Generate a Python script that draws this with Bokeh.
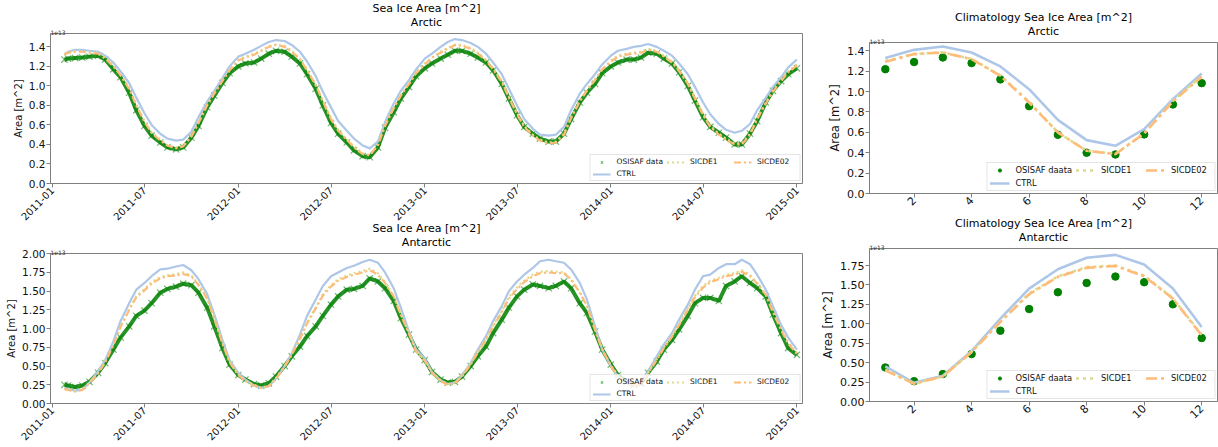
import math
from datetime import datetime
from bokeh.plotting import figure
from bokeh.layouts import row, column
from bokeh.models import (Range1d, FixedTicker, DatetimeTickFormatter, NumeralTickFormatter,
                          Legend, LegendItem, Title)
from bokeh.embed import file_html
from bokeh.resources import INLINE

FONT = "DejaVu Sans"

# ---------------- data (values in units of 1e13 m^2) ----------------
# semi-monthly sample dates: 2011-01-25, then the 1st and 15th of each month, ending 2015-01-01
dates = [datetime(2011, 1, 25)]
for yy in range(2011, 2015):
    for mm in range(1, 13):
        for dd in (1, 15):
            d = datetime(yy, mm, dd)
            if d > dates[0]:
                dates.append(d)
dates.append(datetime(2015, 1, 1))

arc_osisaf = [
    1.27, 1.28, 1.285, 1.29, 1.30, 1.31, 1.27, 1.17, 1.09, 0.93, 0.75, 0.59, 0.49, 0.42, 0.37, 0.35, 0.37, 0.47, 0.59, 0.78, 0.90, 1.03, 1.13,
    1.20, 1.23, 1.24, 1.28, 1.33, 1.36, 1.35, 1.30, 1.23, 1.12, 0.97, 0.80, 0.62, 0.51, 0.42, 0.34, 0.28, 0.27, 0.37, 0.57, 0.73, 0.87, 0.99, 1.10,
    1.18, 1.23, 1.28, 1.32, 1.36, 1.36, 1.33, 1.29, 1.24, 1.16, 1.02, 0.87, 0.70, 0.58, 0.51, 0.46, 0.43, 0.43, 0.51, 0.66, 0.83, 0.93, 1.02, 1.13,
    1.20, 1.24, 1.27, 1.27, 1.29, 1.34, 1.33, 1.28, 1.23, 1.14, 1.00, 0.85, 0.68, 0.58, 0.52, 0.47, 0.40, 0.40, 0.51, 0.64, 0.83, 0.95, 1.05, 1.12,
    1.18]
arc_ctrl = [
    1.32, 1.35, 1.37, 1.37, 1.36, 1.35, 1.31, 1.24, 1.15, 1.03, 0.88, 0.72, 0.60, 0.51, 0.46, 0.44, 0.45, 0.53, 0.68, 0.84, 0.95, 1.08, 1.20,
    1.30, 1.33, 1.37, 1.41, 1.45, 1.47, 1.46, 1.42, 1.35, 1.25, 1.10, 0.94, 0.78, 0.64, 0.54, 0.46, 0.39, 0.36, 0.43, 0.63, 0.82, 0.95, 1.06, 1.17,
    1.28, 1.33, 1.40, 1.45, 1.48, 1.47, 1.44, 1.40, 1.33, 1.24, 1.12, 0.97, 0.80, 0.66, 0.56, 0.50, 0.49, 0.50, 0.58, 0.75, 0.92, 1.02, 1.12, 1.22,
    1.31, 1.36, 1.38, 1.40, 1.41, 1.43, 1.40, 1.36, 1.31, 1.23, 1.12, 0.99, 0.83, 0.71, 0.61, 0.55, 0.52, 0.54, 0.61, 0.75, 0.88, 0.99, 1.09, 1.19,
    1.27]
arc_sicde1 = [
    1.33, 1.34, 1.36, 1.35, 1.35, 1.33, 1.29, 1.21, 1.11, 0.98, 0.81, 0.64, 0.52, 0.45, 0.39, 0.37, 0.38, 0.49, 0.62, 0.81, 0.92, 1.06, 1.16,
    1.27, 1.30, 1.33, 1.36, 1.41, 1.42, 1.41, 1.36, 1.28, 1.17, 1.01, 0.85, 0.67, 0.55, 0.45, 0.38, 0.31, 0.29, 0.40, 0.60, 0.78, 0.91, 1.02, 1.14,
    1.23, 1.29, 1.35, 1.39, 1.42, 1.42, 1.39, 1.34, 1.27, 1.18, 1.05, 0.89, 0.72, 0.59, 0.50, 0.45, 0.42, 0.43, 0.51, 0.68, 0.85, 0.96, 1.07, 1.17,
    1.26, 1.31, 1.33, 1.34, 1.35, 1.38, 1.36, 1.31, 1.25, 1.16, 1.03, 0.88, 0.71, 0.59, 0.51, 0.46, 0.41, 0.41, 0.51, 0.67, 0.83, 0.95, 1.06, 1.15,
    1.22]
arc_sicde02 = [
    1.32, 1.34, 1.35, 1.35, 1.34, 1.33, 1.28, 1.20, 1.11, 0.97, 0.80, 0.63, 0.52, 0.44, 0.39, 0.36, 0.38, 0.48, 0.62, 0.80, 0.92, 1.05, 1.16,
    1.26, 1.29, 1.32, 1.36, 1.40, 1.42, 1.40, 1.35, 1.27, 1.16, 1.01, 0.84, 0.66, 0.54, 0.45, 0.37, 0.30, 0.29, 0.39, 0.59, 0.77, 0.90, 1.02, 1.13,
    1.22, 1.29, 1.34, 1.38, 1.42, 1.41, 1.38, 1.33, 1.26, 1.17, 1.04, 0.88, 0.71, 0.58, 0.49, 0.44, 0.41, 0.42, 0.50, 0.67, 0.84, 0.95, 1.06, 1.17,
    1.25, 1.30, 1.32, 1.33, 1.34, 1.37, 1.35, 1.30, 1.24, 1.15, 1.02, 0.87, 0.70, 0.58, 0.50, 0.45, 0.40, 0.40, 0.50, 0.66, 0.82, 0.94, 1.05, 1.14,
    1.21]

ant_osisaf = [
    0.25, 0.24, 0.22, 0.24, 0.29, 0.41, 0.54, 0.72, 0.88, 1.03, 1.17, 1.24, 1.34, 1.48, 1.53, 1.56, 1.60, 1.58, 1.48, 1.28, 1.03, 0.74, 0.52,
    0.38, 0.32, 0.26, 0.24, 0.27, 0.36, 0.50, 0.63, 0.76, 0.90, 1.03, 1.17, 1.32, 1.43, 1.52, 1.53, 1.57, 1.67, 1.63, 1.54, 1.37, 1.14, 0.92, 0.72,
    0.58, 0.42, 0.32, 0.28, 0.29, 0.36, 0.50, 0.63, 0.76, 0.94, 1.12, 1.28, 1.43, 1.52, 1.59, 1.57, 1.54, 1.57, 1.63, 1.54, 1.34, 1.21, 0.96, 0.72,
    0.52, 0.38, 0.29, 0.25, 0.27, 0.41, 0.56, 0.72, 0.85, 0.99, 1.17, 1.34, 1.41, 1.41, 1.37, 1.57, 1.63, 1.70, 1.61, 1.54, 1.43, 1.19, 0.94, 0.74,
    0.65]
ant_ctrl = [
    0.21, 0.19, 0.17, 0.18, 0.28, 0.43, 0.58, 0.83, 1.10, 1.34, 1.52, 1.61, 1.70, 1.79, 1.80, 1.83, 1.85, 1.78, 1.66, 1.46, 1.19, 0.85, 0.58,
    0.41, 0.32, 0.24, 0.21, 0.23, 0.33, 0.50, 0.67, 0.92, 1.17, 1.39, 1.57, 1.70, 1.75, 1.81, 1.84, 1.89, 1.92, 1.88, 1.75, 1.54, 1.28, 0.96, 0.72,
    0.60, 0.42, 0.31, 0.26, 0.28, 0.38, 0.54, 0.72, 0.90, 1.10, 1.30, 1.50, 1.63, 1.72, 1.81, 1.90, 1.92, 1.90, 1.88, 1.79, 1.61, 1.39, 1.03, 0.72,
    0.50, 0.36, 0.28, 0.25, 0.29, 0.43, 0.63, 0.79, 0.94, 1.12, 1.32, 1.52, 1.70, 1.72, 1.81, 1.86, 1.86, 1.92, 1.86, 1.72, 1.52, 1.30, 1.05, 0.88,
    0.72]
ant_sicde1 = [
    0.20, 0.18, 0.17, 0.19, 0.28, 0.41, 0.56, 0.79, 1.03, 1.26, 1.43, 1.53, 1.62, 1.69, 1.71, 1.73, 1.75, 1.71, 1.59, 1.41, 1.14, 0.81, 0.56,
    0.39, 0.30, 0.25, 0.21, 0.24, 0.34, 0.50, 0.66, 0.87, 1.08, 1.28, 1.46, 1.58, 1.66, 1.71, 1.74, 1.77, 1.80, 1.74, 1.62, 1.44, 1.19, 0.94, 0.70,
    0.58, 0.42, 0.31, 0.26, 0.28, 0.37, 0.53, 0.69, 0.86, 1.04, 1.24, 1.42, 1.55, 1.64, 1.72, 1.76, 1.77, 1.76, 1.75, 1.66, 1.49, 1.31, 0.99, 0.73,
    0.51, 0.37, 0.28, 0.24, 0.27, 0.41, 0.59, 0.75, 0.90, 1.07, 1.27, 1.44, 1.57, 1.64, 1.68, 1.72, 1.74, 1.78, 1.72, 1.61, 1.46, 1.23, 0.99, 0.81,
    0.67]
ant_sicde02 = [
    0.19, 0.18, 0.16, 0.18, 0.27, 0.40, 0.55, 0.78, 1.02, 1.25, 1.42, 1.51, 1.60, 1.67, 1.70, 1.71, 1.73, 1.70, 1.58, 1.40, 1.13, 0.80, 0.55,
    0.38, 0.30, 0.24, 0.21, 0.23, 0.33, 0.49, 0.65, 0.86, 1.07, 1.27, 1.44, 1.56, 1.64, 1.69, 1.72, 1.75, 1.78, 1.72, 1.61, 1.43, 1.18, 0.93, 0.69,
    0.57, 0.41, 0.30, 0.25, 0.27, 0.36, 0.52, 0.68, 0.85, 1.03, 1.22, 1.40, 1.53, 1.62, 1.70, 1.74, 1.75, 1.74, 1.74, 1.65, 1.48, 1.30, 0.98, 0.72,
    0.50, 0.36, 0.28, 0.23, 0.26, 0.40, 0.58, 0.74, 0.89, 1.05, 1.25, 1.42, 1.55, 1.62, 1.66, 1.70, 1.72, 1.76, 1.70, 1.60, 1.45, 1.22, 0.98, 0.80,
    0.66]

months = [1, 2, 3, 4, 5, 6, 7, 8, 9, 10, 11, 12]
clim_arc_osisaf = [1.22, 1.29, 1.335, 1.28, 1.12, 0.857, 0.576, 0.40, 0.383, 0.58, 0.874, 1.083]
clim_arc_ctrl = [1.33, 1.41, 1.443, 1.384, 1.247, 1.024, 0.723, 0.524, 0.468, 0.632, 0.926, 1.178]
clim_arc_sicde1 = [1.30, 1.37, 1.385, 1.32, 1.16, 0.90, 0.60, 0.42, 0.39, 0.59, 0.91, 1.15]
clim_arc_sicde02 = [1.293, 1.368, 1.384, 1.319, 1.155, 0.893, 0.599, 0.419, 0.386, 0.589, 0.903, 1.145]
clim_ant_osisaf = [0.438, 0.262, 0.353, 0.61, 0.911, 1.19, 1.406, 1.526, 1.608, 1.535, 1.251, 0.817]
clim_ant_ctrl = [0.451, 0.241, 0.331, 0.649, 1.066, 1.453, 1.702, 1.849, 1.887, 1.763, 1.453, 0.959]
clim_ant_sicde1 = [0.41, 0.23, 0.32, 0.64, 1.03, 1.39, 1.61, 1.73, 1.75, 1.62, 1.33, 0.86]
clim_ant_sicde02 = [0.40, 0.228, 0.322, 0.636, 1.023, 1.38, 1.604, 1.72, 1.745, 1.612, 1.324, 0.851]

ts_ticks = [datetime(2011, 1, 1), datetime(2011, 7, 1), datetime(2012, 1, 1), datetime(2012, 7, 1),
            datetime(2013, 1, 1), datetime(2013, 7, 1), datetime(2014, 1, 1), datetime(2014, 7, 1),
            datetime(2015, 1, 1)]
month_ticks = [2, 4, 6, 8, 10, 12]

C_OBS = "#008000"
C_CTRL = "#aec7e8"
C_S1 = "#dbdb8d"
C_S2 = "#ffbb78"
AX = "#808080"


def add_titles(p, main, region, fs):
    p.add_layout(Title(text="1e13", align="left", text_font=FONT, text_font_size="6px",
                       text_font_style="normal", text_color="#333333", standoff=-2,
                       text_line_height=1.0), "above")
    p.add_layout(Title(text=region, align="center", text_font=FONT, text_font_size=fs,
                       text_font_style="normal", text_color="black", standoff=-1,
                       text_line_height=1.0), "above")
    p.add_layout(Title(text=main, align="center", text_font=FONT, text_font_size=fs,
                       text_font_style="normal", text_color="black", standoff=-1,
                       text_line_height=1.0), "above")


def style(p, xtick_fs, ytick_fs, lab_fs):
    p.xgrid.visible = False
    p.ygrid.visible = False
    p.outline_line_color = AX
    p.outline_line_width = 1
    p.background_fill_color = "white"
    p.border_fill_color = None
    for ax in p.axis:
        ax.axis_line_color = AX
        ax.major_tick_line_color = AX
        ax.major_tick_in = 0
        ax.major_tick_out = 4
        ax.minor_tick_line_color = None
        ax.major_label_text_font = FONT
        ax.major_label_text_color = "#111111"
        ax.major_label_standoff = 1
        ax.axis_label_text_font = FONT
        ax.axis_label_text_font_size = lab_fs
        ax.axis_label_text_font_style = "normal"
        ax.axis_label_text_color = "#111111"
        ax.axis_label_standoff = 2
    p.xaxis.major_label_text_font_size = xtick_fs
    p.yaxis.major_label_text_font_size = ytick_fs
    p.xaxis.major_label_orientation = math.pi / 4
    p.yaxis.axis_label = "Area [m^2]"


def make_legend(items, fs, gw, lw):
    return Legend(items=items, location="bottom_right", orientation="horizontal", ncols=3,
                  label_text_font=FONT, label_text_font_size=fs, label_text_color="#111111",
                  glyph_width=gw, glyph_height=8, label_height=8, label_standoff=6,
                  label_width=lw, spacing=3, padding=2, margin=2,
                  border_line_color="#cccccc", border_line_width=1,
                  background_fill_color="white", background_fill_alpha=0.8)


def ts_plot(region, obs, ctrl, s1, s2, ymax, yticks, yfmt, height, btop, bbot, mtop):
    p = figure(width=818, height=height, x_axis_type="datetime",
               x_range=Range1d(datetime(2010, 12, 28, 16), datetime(2015, 1, 12)),
               y_range=Range1d(0, ymax),
               toolbar_location=None, output_backend="svg",
               min_border_left=50, min_border_right=16, min_border_top=btop, min_border_bottom=bbot,
               margin=(mtop, 0, 0, 0))
    add_titles(p, "Sea Ice Area [m^2]", region, "11px")
    style(p, "10px", "10.5px", "10px")
    p.xaxis.ticker = FixedTicker(ticks=[d.timestamp() * 1000 for d in ts_ticks])
    p.xaxis.formatter = DatetimeTickFormatter(days="%Y-%m", months="%Y-%m", years="%Y-%m")
    p.yaxis.ticker = FixedTicker(ticks=yticks)
    p.yaxis.formatter = NumeralTickFormatter(format=yfmt)
    p.line(dates, obs, line_color=C_OBS, line_width=4, line_alpha=0.85)
    r_obs = p.scatter(dates, obs, marker="x", size=9, line_color=C_OBS, line_width=1.2, line_alpha=0.55)
    r_c = p.line(dates, ctrl, line_color=C_CTRL, line_width=2.2)
    r_1 = p.line(dates, s1, line_color=C_S1, line_width=2.2, line_dash="2 3")
    r_2 = p.line(dates, s2, line_color=C_S2, line_width=2.2, line_dash="7 3 2 3")
    items = [LegendItem(label="OSISAF data", renderers=[r_obs]),
             LegendItem(label="SICDE1", renderers=[r_1]),
             LegendItem(label="SICDE02", renderers=[r_2]),
             LegendItem(label="CTRL", renderers=[r_c])]
    p.add_layout(make_legend(items, "7.5px", 18, 40))
    return p


def clim_plot(region, obs, ctrl, s1, s2, ymax, yticks, yfmt, height, btop, bbot, mtop):
    p = figure(width=400, height=height,
               x_range=Range1d(0.45, 12.55), y_range=Range1d(0, ymax),
               toolbar_location=None, output_backend="svg",
               min_border_left=51, min_border_right=1, min_border_top=btop, min_border_bottom=bbot,
               margin=(mtop, 0, 0, 0))
    add_titles(p, "Climatology Sea Ice Area [m^2]", region, "11px")
    style(p, "11px", "11px", "11.5px")
    p.xaxis.ticker = FixedTicker(ticks=month_ticks)
    p.yaxis.ticker = FixedTicker(ticks=yticks)
    p.yaxis.formatter = NumeralTickFormatter(format=yfmt)
    r_obs = p.scatter(months, obs, marker="circle", size=7.5, fill_color=C_OBS, line_color=C_OBS)
    r_c = p.line(months, ctrl, line_color=C_CTRL, line_width=2.6)
    r_1 = p.line(months, s1, line_color=C_S1, line_width=2.6, line_dash="3 4")
    r_2 = p.line(months, s2, line_color=C_S2, line_width=2.6, line_dash="11 4 3 4")
    items = [LegendItem(label="OSISAF daata", renderers=[r_obs]),
             LegendItem(label="SICDE1", renderers=[r_1]),
             LegendItem(label="SICDE02", renderers=[r_2]),
             LegendItem(label="CTRL", renderers=[r_c])]
    p.add_layout(make_legend(items, "8.3px", 20, 41))
    return p


tl = ts_plot("Arctic", arc_osisaf, arc_ctrl, arc_sicde1, arc_sicde02, 1.537,
             [0, 0.2, 0.4, 0.6, 0.8, 1.0, 1.2, 1.4], "0.0", 227, 33, 44, 0)
bl = ts_plot("Antarctic", ant_osisaf, ant_ctrl, ant_sicde1, ant_sicde02, 2.003,
             [0, 0.25, 0.5, 0.75, 1.0, 1.25, 1.5, 1.75, 2.0], "0.00", 229, 35, 44, -9)
tr = clim_plot("Arctic", clim_arc_osisaf, clim_arc_ctrl, clim_arc_sicde1, clim_arc_sicde02, 1.482,
               [0, 0.2, 0.4, 0.6, 0.8, 1.0, 1.2, 1.4], "0.0", 219, 42, 26, 0)
br = clim_plot("Antarctic", clim_ant_osisaf, clim_ant_ctrl, clim_ant_sicde1, clim_ant_sicde02, 1.969,
               [0, 0.25, 0.5, 0.75, 1.0, 1.25, 1.5, 1.75], "0.00", 216, 36, 27, -7)

layout = row(column(tl, bl), column(tr, br))
open("out.html", "w").write(file_html(layout, INLINE))
